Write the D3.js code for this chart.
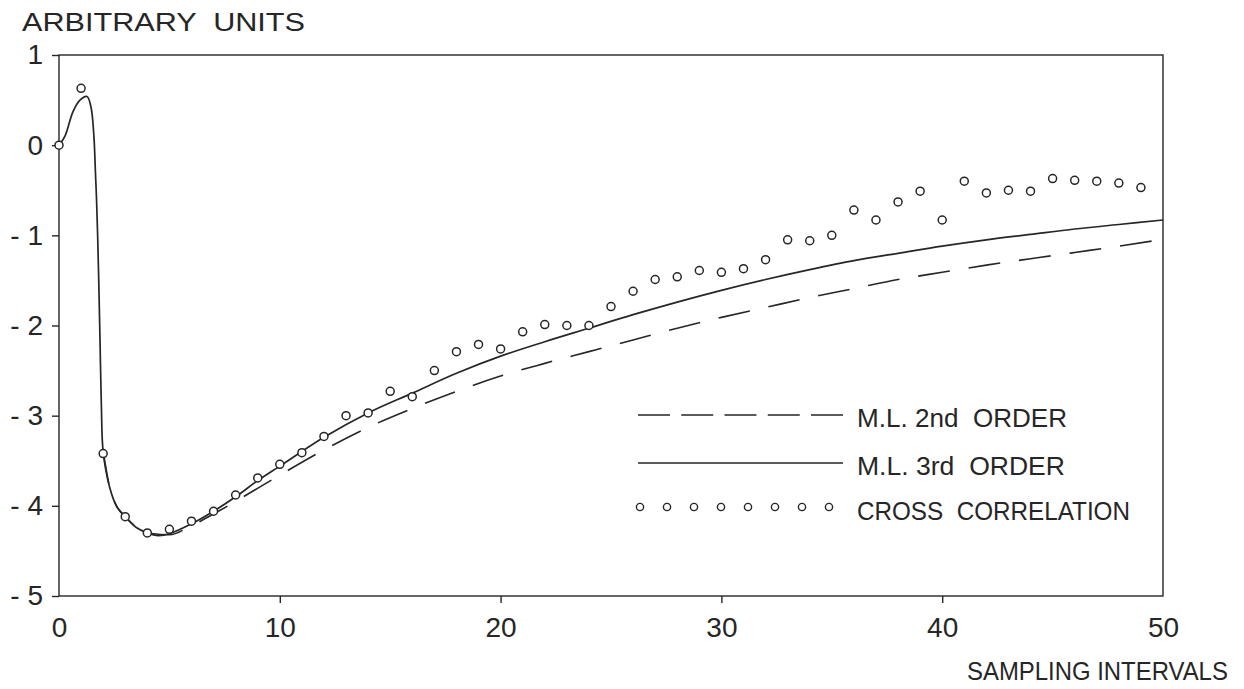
<!DOCTYPE html>
<html>
<head>
<meta charset="utf-8">
<script src="https://cdn.jsdelivr.net/npm/d3@7"></script>
<style>
  body { margin: 0; background: #fff; }
  svg { display: block; }
  text { font-family: "Liberation Sans", "DejaVu Sans", sans-serif; fill: #262626; }
</style>
</head>
<body>
<svg id="chart" width="1244" height="689"></svg>
<script>
// cross correlation estimates, one per sampling interval
var ccX = [0, 1, 2, 3, 4, 5, 6, 7, 8, 9, 10, 11, 12, 13, 14, 15, 16, 17, 18, 19,
           20, 21, 22, 23, 24, 25, 26, 27, 28, 29, 30, 31, 32, 33, 34, 35, 36, 37, 38, 39,
           40, 41, 42, 43, 44, 45, 46, 47, 48, 49];
var ccY = [0.0, 0.63, -3.42, -4.12, -4.3, -4.26, -4.17, -4.06, -3.88, -3.69,
           -3.54, -3.41, -3.23, -3.0, -2.97, -2.73, -2.79, -2.5, -2.29, -2.21,
           -2.26, -2.07, -1.99, -2.0, -2.0, -1.79, -1.62, -1.49, -1.46, -1.39,
           -1.41, -1.37, -1.27, -1.05, -1.06, -1.0, -0.72, -0.83, -0.63, -0.51,
           -0.83, -0.4, -0.53, -0.5, -0.51, -0.37, -0.39, -0.4, -0.42, -0.47];

// M.L. 3rd order model response
var ml3X = [0, 0.27, 0.63, 0.95, 1.27, 1.45, 1.58, 1.65, 1.7, 1.75, 1.8, 1.86, 1.92, 2.0,
            2.3, 2.6, 3, 3.5, 4, 4.5, 5, 6, 7, 8, 9, 10, 12, 14, 16, 18, 20, 22, 24, 26,
            28, 30, 32, 34, 36, 38, 40, 42, 44, 46, 48, 50];
var ml3Y = [0, 0.1, 0.37, 0.5, 0.54, 0.42, 0.1, -0.3, -0.6, -1.0, -1.5, -2.2, -2.9, -3.4,
            -3.8, -4.0, -4.12, -4.24, -4.3, -4.33, -4.31, -4.2, -4.06, -3.9, -3.72, -3.56,
            -3.24, -2.97, -2.75, -2.53, -2.34, -2.18, -2.03, -1.88, -1.74, -1.61, -1.49,
            -1.38, -1.28, -1.2, -1.12, -1.05, -0.99, -0.93, -0.88, -0.83];

// M.L. 2nd order model response
var ml2X = [2, 2.3, 2.6, 3, 4, 5, 6, 7, 8, 10, 12, 14, 16, 18, 20, 22, 24, 26, 28, 30,
            32, 34, 36, 38, 40, 42, 44, 46, 48, 49.6];
var ml2Y = [-3.4, -3.8, -4.0, -4.12, -4.3, -4.32, -4.22, -4.09, -3.95, -3.66, -3.38,
            -3.13, -2.92, -2.73, -2.56, -2.42, -2.29, -2.16, -2.03, -1.91, -1.8, -1.69,
            -1.59, -1.49, -1.41, -1.33, -1.26, -1.19, -1.12, -1.06];

var xTicks = [0, 10, 20, 30, 40, 50];
var yTicks = [1, 0, -1, -2, -3, -4, -5];

var legendLabels = ["M.L. 2nd  ORDER", "M.L. 3rd  ORDER", "CROSS  CORRELATION"];

var margin = {top: 55, right: 81, bottom: 93, left: 59};
var width = 1244 - margin.left - margin.right;
var height = 689 - margin.top - margin.bottom;
var ink = "#262626";

var svg = d3.select("#chart");
var g = svg.append("g")
    .attr("transform", "translate(" + margin.left + "," + margin.top + ")");

var x = d3.scaleLinear().domain([0, 50]).range([0, width]);
var y = d3.scaleLinear().domain([-5, 1]).range([height, 0]);

// frame
g.append("rect")
    .attr("width", width).attr("height", height)
    .attr("fill", "none").attr("stroke", ink).attr("stroke-width", 1.4);

// axes: ticks and labels only, the frame is the rect above
var xAxis = d3.axisBottom(x).tickValues(xTicks).tickSize(7).tickPadding(14)
    .tickFormat(function (d) { return d; });
var yAxis = d3.axisLeft(y).tickValues(yTicks).tickSize(7).tickPadding(9)
    .tickFormat(function (d) { return d < 0 ? "- " + Math.abs(d) : d; });

var gx = g.append("g").attr("transform", "translate(0," + height + ")").call(xAxis);
var gy = g.append("g").call(yAxis);
[gx, gy].forEach(function (a) {
  a.select(".domain").remove();
  a.selectAll("line").attr("stroke", ink).attr("stroke-width", 1.4);
  a.selectAll("text").attr("fill", "#262626").style("font-size", "28px")
      .attr("font-family", "'Liberation Sans', 'DejaVu Sans', sans-serif");
});
gx.selectAll(".tick").filter(function (d) { return d === 0 || d === 50; })
    .select("line").remove();

// curves
var line = d3.line()
    .x(function (d) { return x(d[0]); })
    .y(function (d) { return y(d[1]); })
    .curve(d3.curveMonotoneX);

var ml2 = ml2X.map(function (v, i) { return [v, ml2Y[i]]; });
var ml3 = ml3X.map(function (v, i) { return [v, ml3Y[i]]; });

g.append("path").attr("d", line(ml2))
    .attr("fill", "none").attr("stroke", ink).attr("stroke-width", 1.6)
    .attr("stroke-dasharray", "32,19");

g.append("path").attr("d", d3.line()
        .x(function (d) { return x(d[0]); })
        .y(function (d) { return y(d[1]); })
        .curve(d3.curveCatmullRom.alpha(0.5))(ml3))
    .attr("fill", "none").attr("stroke", ink).attr("stroke-width", 1.7);

g.selectAll("circle.cc")
    .data(ccX.map(function (v, i) { return [v, ccY[i]]; }))
    .enter().append("circle")
    .attr("class", "cc")
    .attr("cx", function (d) { return x(d[0]); })
    .attr("cy", function (d) { return y(d[1]); })
    .attr("r", 4)
    .attr("fill", "#fff").attr("stroke", ink).attr("stroke-width", 1.5);

// legend
var lg = svg.append("g").attr("transform", "translate(638,415)");
lg.append("line").attr("x1", 0).attr("x2", 205).attr("y1", 0).attr("y2", 0)
    .attr("stroke", ink).attr("stroke-width", 1.6).attr("stroke-dasharray", "32,11.25");
lg.append("line").attr("x1", 0).attr("x2", 205).attr("y1", 48).attr("y2", 48)
    .attr("stroke", ink).attr("stroke-width", 1.7);
lg.selectAll("circle").data(d3.range(8)).enter().append("circle")
    .attr("cx", function (d) { return 2 + d * 27; })
    .attr("cy", 92)
    .attr("r", 3.6)
    .attr("fill", "#fff").attr("stroke", ink).attr("stroke-width", 1.4);
lg.selectAll("text").data(legendLabels).enter().append("text")
    .attr("x", 219)
    .attr("y", function (d, i) { return [12, 60, 105][i]; })
    .style("font-size", "25px")
    .attr("textLength", function (d, i) { return [210, 208, 273][i]; })
    .attr("lengthAdjust", "spacingAndGlyphs")
    .attr("xml:space", "preserve")
    .text(function (d) { return d; });

// axis titles
svg.append("text").attr("x", 22).attr("y", 31)
    .style("font-size", "26px")
    .attr("textLength", 283).attr("lengthAdjust", "spacingAndGlyphs")
    .attr("xml:space", "preserve")
    .text("ARBITRARY  UNITS");

svg.append("text")
    .attr("transform", "translate(967,680) scale(0.92,1)")
    .style("font-size", "26px")
    .text("SAMPLING INTERVALS");
</script>
</body>
</html>
